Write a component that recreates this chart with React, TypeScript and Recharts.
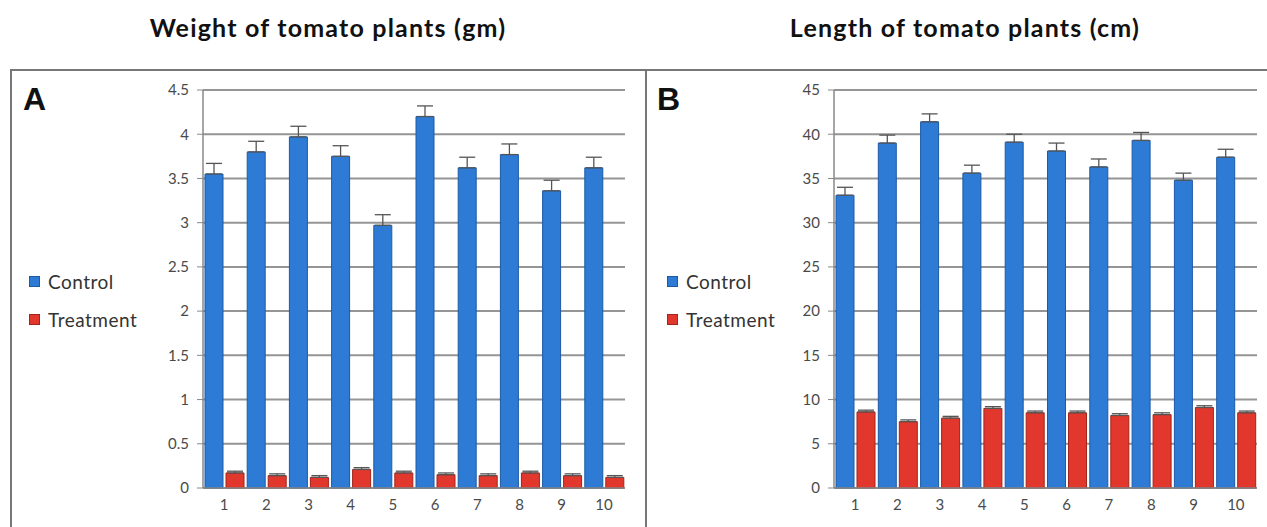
import { BarChart, Bar, XAxis, YAxis, CartesianGrid, ErrorBar } from 'recharts'

const plants = ['1', '2', '3', '4', '5', '6', '7', '8', '9', '10']

const weightControl = [3.55, 3.8, 3.97, 3.75, 2.97, 4.2, 3.62, 3.77, 3.36, 3.62]
const weightControlErr = [0.12, 0.12, 0.12, 0.12, 0.12, 0.12, 0.12, 0.12, 0.12, 0.12]
const weightTreatment = [0.17, 0.14, 0.12, 0.21, 0.17, 0.15, 0.14, 0.17, 0.14, 0.12]
const weightTreatmentErr = [0.02, 0.02, 0.02, 0.02, 0.02, 0.02, 0.02, 0.02, 0.02, 0.02]
const weightTicks = [0, 0.5, 1, 1.5, 2, 2.5, 3, 3.5, 4, 4.5]

const lengthControl = [33.1, 39.0, 41.4, 35.6, 39.1, 38.1, 36.3, 39.3, 34.8, 37.4]
const lengthControlErr = [0.9, 0.9, 0.9, 0.9, 0.9, 0.9, 0.9, 0.9, 0.8, 0.9]
const lengthTreatment = [8.6, 7.5, 7.9, 9.0, 8.5, 8.5, 8.2, 8.3, 9.1, 8.5]
const lengthTreatmentErr = [0.2, 0.2, 0.2, 0.2, 0.2, 0.2, 0.2, 0.2, 0.2, 0.2]
const lengthTicks = [0, 5, 10, 15, 20, 25, 30, 35, 40, 45]

const edgeTicks = [0, 1, 2, 3, 4, 5, 6, 7, 8, 9, 10]

const BLUE = '#2d7bd5'
const BLUE_EDGE = '#1d5aa6'
const RED = '#e2372d'
const RED_EDGE = '#a3241c'
const AXIS = '#888'
const GRID = '#959595'
const FONT = 'Lato, "Open Sans", sans-serif'

function buildRows(c: number[], ce: number[], t: number[], te: number[]) {
  // plus-only error bars, like the original
  return plants.map((p, i) => ({ plant: p, c: c[i], ce: [0, ce[i]], t: t[i], te: [0, te[i]] }))
}

interface PanelProps {
  rows: ReturnType<typeof buildRows>
  ticks: number[]
  left: number
  width: number
  yWidth: number
}

function Panel({ rows, ticks, left, width, yWidth }: PanelProps) {
  const tickStyle = { fontSize: 15, fill: '#4a4a4a', fontFamily: FONT }
  return (
    <div style={{ position: 'absolute', left, top: 70 }}>
      <BarChart
        width={width}
        height={448}
        data={rows}
        margin={{ top: 20, right: 10, left: 0, bottom: 0 }}
        barCategoryGap={2}
        barGap={3}
      >
        <CartesianGrid vertical={false} stroke={GRID} strokeWidth={2} />
        <XAxis
          xAxisId="edges"
          type="number"
          domain={[0, 10]}
          ticks={edgeTicks}
          tick={false}
          axisLine={false}
          tickLine={{ stroke: AXIS }}
          tickSize={5}
          height={0}
        />
        <XAxis
          xAxisId="cat"
          dataKey="plant"
          tick={tickStyle}
          tickLine={false}
          axisLine={{ stroke: AXIS, strokeWidth: 1.5 }}
          tickSize={6}
          tickMargin={5}
          height={30}
          interval={0}
        />
        <YAxis
          domain={[ticks[0], ticks[ticks.length - 1]]}
          ticks={ticks}
          tick={tickStyle}
          tickLine={{ stroke: AXIS }}
          axisLine={{ stroke: AXIS, strokeWidth: 1.5 }}
          tickSize={6}
          tickMargin={8}
          width={yWidth}
          interval={0}
        />
        <Bar xAxisId="cat" dataKey="c" fill={BLUE} stroke={BLUE_EDGE} strokeWidth={1} isAnimationActive={false}>
          <ErrorBar dataKey="ce" width={8} stroke="#555" strokeWidth={1.3} isAnimationActive={false} />
        </Bar>
        <Bar xAxisId="cat" dataKey="t" fill={RED} stroke={RED_EDGE} strokeWidth={1} isAnimationActive={false}>
          <ErrorBar dataKey="te" width={8} stroke="#555" strokeWidth={1.3} isAnimationActive={false} />
        </Bar>
      </BarChart>
    </div>
  )
}

function Legend({ left }: { left: number }) {
  const item = (label: string, fill: string, edge: string, top: number) => (
    <div style={{ position: 'absolute', left, top, display: 'flex', alignItems: 'center' }}>
      <span style={{ width: 9, height: 9, background: fill, border: `1px solid ${edge}`, marginRight: 8 }} />
      <span style={{ fontFamily: FONT, fontSize: 19, letterSpacing: 0.5, color: '#333' }}>{label}</span>
    </div>
  )
  return (
    <>
      {item('Control', BLUE, BLUE_EDGE, 270)}
      {item('Treatment', RED, RED_EDGE, 308)}
    </>
  )
}

export default function App() {
  const weightRows = buildRows(weightControl, weightControlErr, weightTreatment, weightTreatmentErr)
  const lengthRows = buildRows(lengthControl, lengthControlErr, lengthTreatment, lengthTreatmentErr)
  const titleStyle = {
    position: 'absolute' as const,
    top: 12,
    width: 440,
    textAlign: 'center' as const,
    fontFamily: FONT,
    fontWeight: 700,
    fontSize: 25,
    letterSpacing: 1.2,
    color: '#111',
  }
  const letterStyle = {
    position: 'absolute' as const,
    top: 81,
    fontFamily: '"Liberation Sans", Arial, sans-serif',
    fontWeight: 700,
    fontSize: 32,
    color: '#111',
  }
  return (
    <div style={{ position: 'relative', width: 1267, height: 527, background: '#fff', overflow: 'hidden' }}>
      <style>{'body{margin:0}'}</style>
      <div style={{ ...titleStyle, left: 108 }}>Weight of tomato plants (gm)</div>
      <div style={{ ...titleStyle, left: 745 }}>Length of tomato plants (cm)</div>
      <div style={{ position: 'absolute', left: 10, top: 69, width: 633, height: 480, border: '2px solid #777', borderBottom: 'none' }} />
      <div style={{ position: 'absolute', left: 645, top: 69, width: 640, height: 480, borderTop: '2px solid #777' }} />
      <div style={{ ...letterStyle, left: 23 }}>A</div>
      <div style={{ ...letterStyle, left: 657 }}>B</div>
      <Legend left={29} />
      <Legend left={667} />
      <Panel rows={weightRows} ticks={weightTicks} left={150} width={485} yWidth={53} />
      <Panel rows={lengthRows} ticks={lengthTicks} left={780} width={487} yWidth={54} />
    </div>
  )
}
